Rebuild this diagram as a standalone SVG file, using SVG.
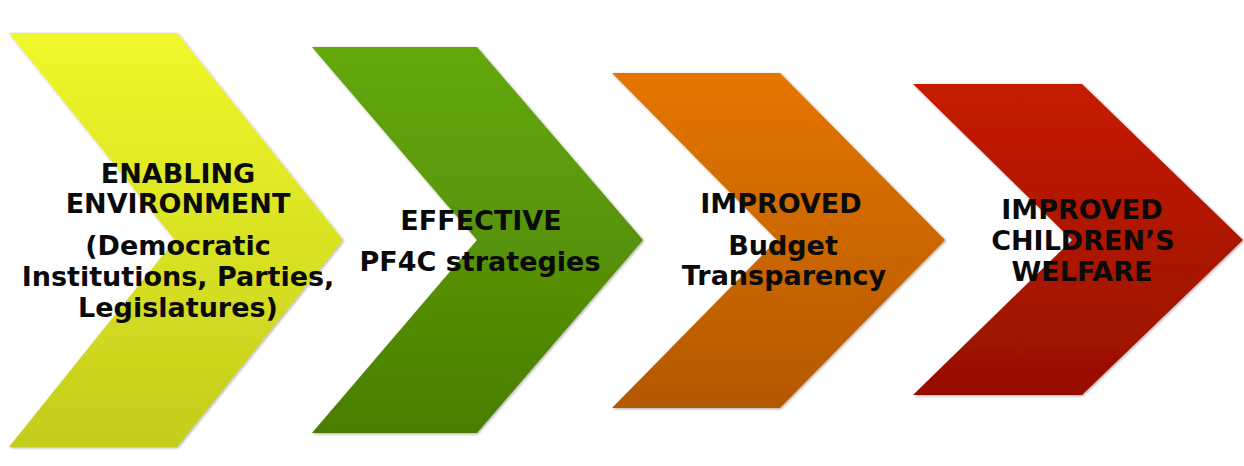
<svg xmlns="http://www.w3.org/2000/svg" width="1244" height="466" viewBox="0 0 1244 466">
<defs>
<linearGradient id="gY" x1="0" y1="0" x2="0" y2="1"><stop offset="0" stop-color="#f0f82a"/><stop offset="1" stop-color="#c3cd1c"/></linearGradient>
<linearGradient id="gG" x1="0" y1="0" x2="0" y2="1"><stop offset="0" stop-color="#64a90a"/><stop offset="1" stop-color="#4a7e04"/></linearGradient>
<linearGradient id="gO" x1="0" y1="0" x2="0" y2="1"><stop offset="0" stop-color="#e47600"/><stop offset="1" stop-color="#b45800"/></linearGradient>
<linearGradient id="gR" x1="0" y1="0" x2="0" y2="1"><stop offset="0" stop-color="#c51b00"/><stop offset="1" stop-color="#961000"/></linearGradient>
<filter id="sh" x="-5%" y="-5%" width="110%" height="110%">
<feGaussianBlur in="SourceAlpha" stdDeviation="1.5"/>
<feOffset dx="0.5" dy="1" result="b"/>
<feComponentTransfer><feFuncA type="linear" slope="0.35"/></feComponentTransfer>
<feMerge><feMergeNode/><feMergeNode in="SourceGraphic"/></feMerge>
</filter>
</defs>
<style>
.lbl{font-family:"DejaVu Sans",Verdana,sans-serif;font-weight:bold;font-size:27px;fill:#0a0a0a;text-anchor:middle}
.chev{filter:url(#sh)}
</style>
<rect width="1244" height="466" fill="#ffffff"/>
<g id="node1">
<polygon class="chev" points="9,33 177,33 343,240 177,447 9,447 175,240" fill="url(#gY)"/>
<text class="lbl" x="178" y="183">ENABLING</text>
<text class="lbl" x="178" y="213">ENVIRONMENT</text>
<text class="lbl" x="178" y="255">(Democratic</text>
<text class="lbl" x="178" y="286">Institutions, Parties,</text>
<text class="lbl" x="178" y="317">Legislatures)</text>
</g>
<g id="node2">
<polygon class="chev" points="312,47 477,47 643,240 477,433 312,433 477,240" fill="url(#gG)"/>
<text class="lbl" x="481" y="230">EFFECTIVE</text>
<text class="lbl" x="480" y="271">PF4C strategies</text>
</g>
<g id="node3">
<polygon class="chev" points="612,73 780,73 945,240 780,408 612,408 777,240" fill="url(#gO)"/>
<text class="lbl" x="781" y="213">IMPROVED</text>
<text class="lbl" x="783" y="255">Budget</text>
<text class="lbl" x="784" y="285">Transparency</text>
</g>
<g id="node4">
<polygon class="chev" points="913,84 1082,84 1243,240 1082,395 913,395 1072,240" fill="url(#gR)"/>
<text class="lbl" x="1082" y="219">IMPROVED</text>
<text class="lbl" x="1083" y="250">CHILDREN’S</text>
<text class="lbl" x="1082" y="281">WELFARE</text>
</g>
<g id="connectors"></g>
</svg>
